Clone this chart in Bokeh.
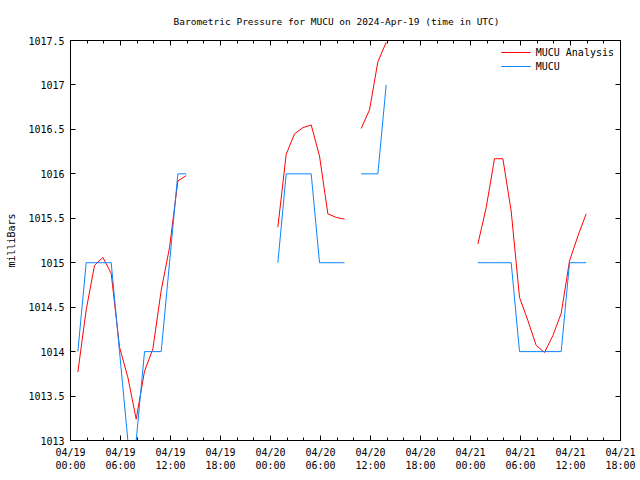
import math
from bokeh.plotting import figure
from bokeh.models import Range1d, FixedTicker, LinearAxis, Legend, LegendItem, NumeralTickFormatter
from bokeh.embed import file_html
from bokeh.resources import INLINE

NaN = float("nan")

# observation times: hours since 2024-04-19 00:00 UTC (hourly reports at :53)
obs_minute = 53
obs_index = list(range(62))
obs_hours = [i + obs_minute / 60.0 for i in obs_index]

analysis = [
    1013.77, 1014.47, 1014.97, 1015.06, 1014.88, 1014.05, 1013.71, 1013.24, 1013.78, 1014.03,
    1014.69, 1015.17, 1015.92, 1015.98,
    NaN, NaN, NaN, NaN, NaN, NaN, NaN, NaN, NaN, NaN,
    1015.40, 1016.22, 1016.45, 1016.52, 1016.55, 1016.20, 1015.55, 1015.51, 1015.49,
    NaN,
    1016.51, 1016.72, 1017.26, 1017.48,
    NaN, NaN, NaN, NaN, NaN, NaN, NaN, NaN, NaN, NaN,
    1015.21, 1015.62, 1016.17, 1016.17, 1015.58, 1014.61, 1014.35, 1014.07, 1013.99, 1014.18,
    1014.43, 1015.02, 1015.30, 1015.55,
]

observed = [
    1014, 1015, 1015, 1015, 1015, 1014, 1013, 1013, 1014, 1014,
    1014, 1015, 1016, 1016,
    NaN, NaN, NaN, NaN, NaN, NaN, NaN, NaN, NaN, NaN,
    1015, 1016, 1016, 1016, 1016, 1015, 1015, 1015, 1015,
    NaN,
    1016, 1016, 1016, 1017,
    NaN, NaN, NaN, NaN, NaN, NaN, NaN, NaN, NaN, NaN,
    1015, 1015, 1015, 1015, 1015, 1014, 1014, 1014, 1014, 1014,
    1014, 1015, 1015, 1015,
]

x_ticks = [0, 6, 12, 18, 24, 30, 36, 42, 48, 54, 60, 66]
x_minor = list(range(0, 67, 2))
tick_dates = ["04/19", "04/19", "04/19", "04/19", "04/20", "04/20", "04/20", "04/20",
              "04/21", "04/21", "04/21", "04/21"]
tick_times = ["00:00", "06:00", "12:00", "18:00", "00:00", "06:00", "12:00", "18:00",
              "00:00", "06:00", "12:00", "18:00"]
y_ticks = [1013, 1013.5, 1014, 1014.5, 1015, 1015.5, 1016, 1016.5, 1017, 1017.5]

FONT = "DejaVu Sans Mono"
FS = "10px"

p = figure(width=640, height=480, output_backend="svg", toolbar_location=None,
           x_range=Range1d(0, 66), y_range=Range1d(1013, 1017.5),
           min_border_left=70, min_border_right=20, min_border_top=40, min_border_bottom=40,
           title="Barometric Pressure for MUCU on 2024-Apr-19 (time in UTC)")
p.title.align = "left"
p.title.offset = 103
p.title.standoff = 27
p.title.text_font = FONT
p.title.text_font_size = "9.5px"
p.title.text_font_style = "normal"
p.title.text_color = "black"
p.xgrid.visible = False
p.ygrid.visible = False
p.outline_line_color = "black"
p.outline_line_alpha = 1
p.background_fill_color = "white"
p.border_fill_color = "white"

xt = FixedTicker(ticks=x_ticks, minor_ticks=x_minor)
yt = FixedTicker(ticks=y_ticks, minor_ticks=[])

overrides = {t: d + "\n" + tm for t, d, tm in zip(x_ticks, tick_dates, tick_times)}

def style_axis(ax, show_labels=True):
    ax.axis_line_color = "black"
    ax.major_tick_in = 5
    ax.major_tick_out = 0
    ax.minor_tick_in = 3
    ax.minor_tick_out = 0
    ax.major_tick_line_color = "black"
    ax.minor_tick_line_color = "black"
    ax.major_label_text_font = FONT
    ax.major_label_text_font_size = FS if show_labels else "0px"
    ax.major_label_text_color = "black"
    ax.axis_label_text_font = FONT
    ax.axis_label_text_font_size = FS
    ax.axis_label_text_font_style = "normal"
    ax.axis_label_text_color = "black"
    ax.major_label_standoff = 6 if show_labels else 0

xa = p.xaxis[0]
xa.ticker = xt
xa.major_label_overrides = overrides
style_axis(xa)

ya = p.yaxis[0]
ya.ticker = yt
ya.formatter = NumeralTickFormatter(format="0.[0]")
ya.axis_label = "milliBars"
ya.axis_label_standoff = 8
style_axis(ya)

top = LinearAxis(ticker=FixedTicker(ticks=x_ticks, minor_ticks=x_minor))
style_axis(top, False)
top.major_label_overrides = {t: "" for t in x_ticks}
p.add_layout(top, "above")

right = LinearAxis(ticker=FixedTicker(ticks=y_ticks, minor_ticks=[]))
style_axis(right, False)
right.major_label_overrides = {t: "" for t in y_ticks}
p.add_layout(right, "right")

r_an = p.line(obs_hours, analysis, line_color="#ff0000", line_width=1)
r_ob = p.line(obs_hours, observed, line_color="#0a84ff", line_width=1)

legend = Legend(items=[LegendItem(label="MUCU Analysis", renderers=[r_an]),
                       LegendItem(label="MUCU", renderers=[r_ob])],
                location="top_right")
legend.background_fill_alpha = 0
legend.border_line_alpha = 0
legend.label_text_font = FONT
legend.label_text_font_size = FS
legend.label_text_color = "black"
legend.glyph_width = 30
legend.glyph_height = 12
legend.label_height = 12
legend.spacing = 2
legend.padding = 4
legend.margin = 2
p.add_layout(legend)

open("out.html", "w").write(file_html(p, INLINE))
